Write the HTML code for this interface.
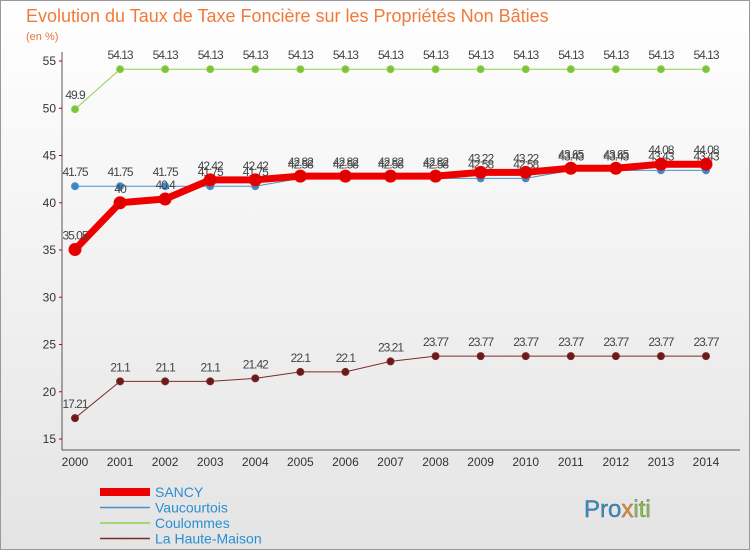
<!DOCTYPE html>
<html><head><meta charset="utf-8"><style>
body{margin:0;width:750px;height:550px;overflow:hidden;font-family:"Liberation Sans",sans-serif;}
svg text{font-family:"Liberation Sans",sans-serif;}
</style></head><body>
<svg id="c" width="750" height="550" xmlns="http://www.w3.org/2000/svg">
<defs>
<linearGradient id="bg" x1="0" y1="0" x2="0" y2="1"><stop offset="0" stop-color="#ffffff"/><stop offset="1" stop-color="#e4e4e4"/></linearGradient>
</defs>
<rect x="0.5" y="0.5" width="749" height="549" fill="url(#bg)" stroke="#999"/>
<text x="26" y="22" font-size="18" fill="#f07a3a">Evolution du Taux de Taxe Foncière sur les Propriétés Non Bâties</text>
<text x="26" y="40" font-size="11" fill="#e8743b">(en %)</text>
<line x1="62" y1="52" x2="62" y2="450" stroke="#555"/>
<line x1="62" y1="450" x2="740" y2="450" stroke="#555"/>
<g id="grid"></g><g id="series"></g><g id="legend"></g>
<g>
<text x="584" y="517" font-size="24" fill="#2a8fd0" stroke="#666" stroke-width="0.4">Pro<tspan fill="#f28c1e">x</tspan><tspan fill="#8ac43f">iti</tspan></text>
</g>
</svg>
<script>
const years=[2000,2001,2002,2003,2004,2005,2006,2007,2008,2009,2010,2011,2012,2013,2014];
const yTicks=[15,20,25,30,35,40,45,50,55];
const sancy=[35.05,40,40.4,42.42,42.42,42.82,42.82,42.82,42.82,43.22,43.22,43.65,43.65,44.08,44.08];
const vaucourtois=[41.75,41.75,41.75,41.75,41.75,42.58,42.58,42.58,42.58,42.58,42.58,43.43,43.43,43.43,43.43];
const coulommes=[49.9,54.13,54.13,54.13,54.13,54.13,54.13,54.13,54.13,54.13,54.13,54.13,54.13,54.13,54.13];
const hauteMaison=[17.21,21.1,21.1,21.1,21.42,22.1,22.1,23.21,23.77,23.77,23.77,23.77,23.77,23.77,23.77];
const seriesNames=["SANCY","Vaucourtois","Coulommes","La Haute-Maison"];
const NS="http://www.w3.org/2000/svg";
const xS=i=>75+i*(706-75)/(years.length-1);
const yS=v=>439-(v-15)*(439-61)/40;
function mk(t,a,p){const e=document.createElementNS(NS,t);for(const k in a)e.setAttribute(k,a[k]);p.appendChild(e);return e;}
const grid=document.getElementById('grid');
yTicks.forEach(v=>{
 const t=mk('text',{x:56,y:yS(v)+4,'font-size':12,'text-anchor':'end',fill:'#333'},grid);t.textContent=v;
 
 
 const m=mk('line',{x1:59,x2:62,y1:yS(v),y2:yS(v),stroke:'#c00'},grid);
 
 
});
years.forEach((y,i)=>{
 const t=mk('text',{x:xS(i),y:466,'font-size':12,'text-anchor':'middle',fill:'#333'},grid);t.textContent=y;
 
 
});
const sg=document.getElementById('series');
function draw(data,color,w,r,name,fill,labOff){
 const g=mk('g',{},sg);
 
 
 const pts=data.map((v,i)=>xS(i)+','+yS(v)).join(' ');
 const pl=mk('polyline',{points:pts,fill:'none',stroke:color,'stroke-width':w,'stroke-linejoin':'round'},g);
 
 
 data.forEach((v,i)=>{
  const c=mk('circle',{cx:xS(i),cy:yS(v),r:r,fill:fill,stroke:color,'stroke-width':1},g);
  
  
  const t=mk('text',{x:xS(i),y:yS(v)+labOff,'font-size':12,'text-anchor':'middle',fill:'#444','letter-spacing':'-1'},g);t.textContent=v;
  
  
 });
}
draw(hauteMaison,'#7a2a2a',1,3.5,'la-haute-maison-series','#6b1a1a',-10);
draw(coulommes,'#8fd14f',1,3.5,'coulommes-series','#7cc23a',-10);
draw(vaucourtois,'#4a90c8',1,3.5,'vaucourtois-series','#3a88c8',-10);
draw(sancy,'#ee0000',7,6,'sancy-series','#e00000',-10);
const lg=document.getElementById('legend');
const lc=['#ee0000','#4a90c8','#8fd14f','#7a2a2a'],lw=[8,1.5,1.5,1.5];
seriesNames.forEach((n,i)=>{
 const y=492+i*15.5;
 const l=mk('line',{x1:100,x2:150,y1:y,y2:y,stroke:lc[i],'stroke-width':lw[i]},lg);
 
 
 const t=mk('text',{x:155,y:y+5,'font-size':14,fill:'#2a8fd0'},lg);t.textContent=n;
 
 
});
</script>
</body></html>
